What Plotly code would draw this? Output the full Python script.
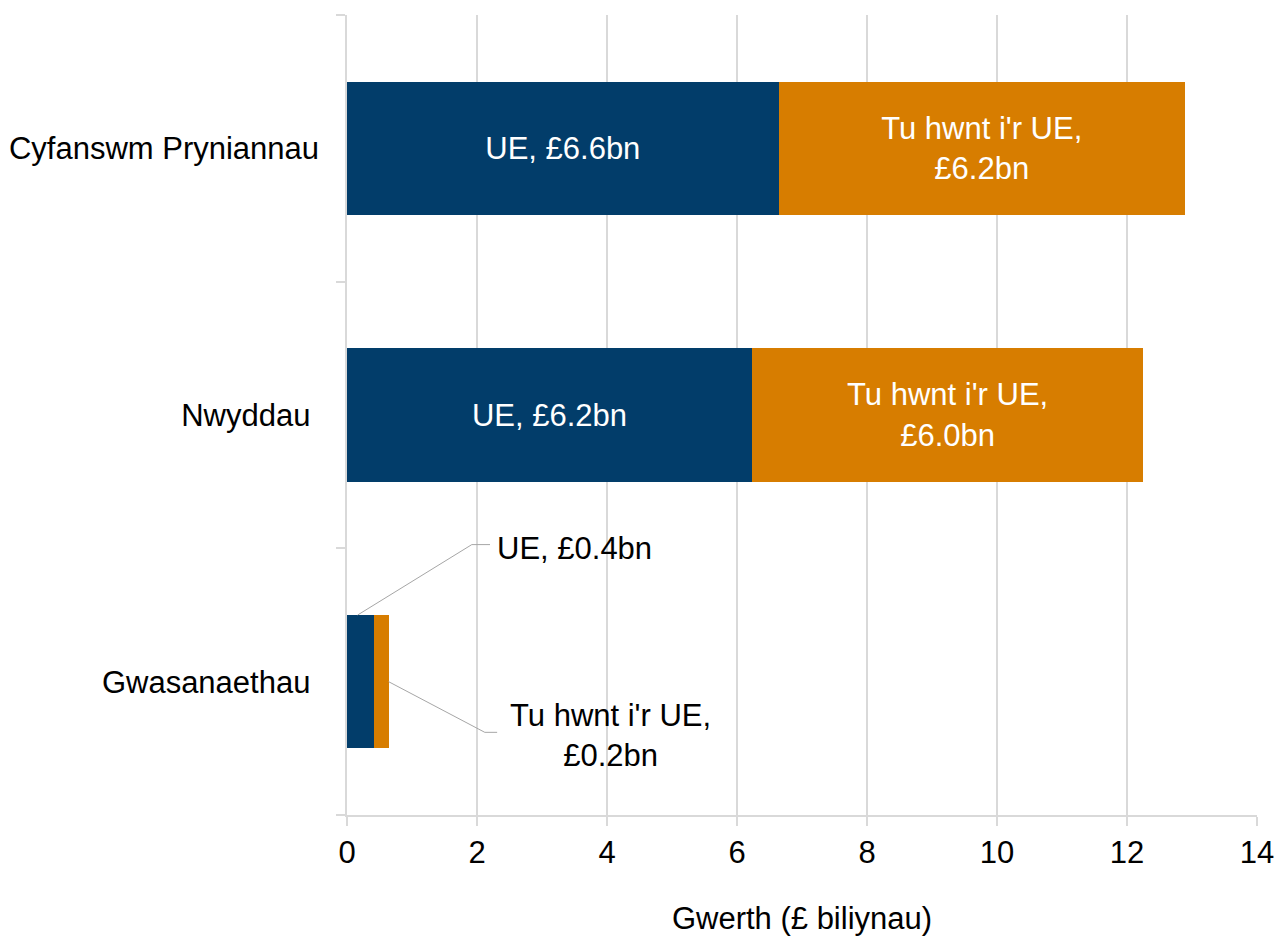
import plotly.graph_objects as go

categories = ["Cyfanswm Pryniannau", "Nwyddau", "Gwasanaethau"]
tick_labels = ["Cyfanswm Pryniannau", "Nwyddau\u00a0", "Gwasanaethau\u00a0"]
eu_values = [6.64, 6.23, 0.41]
non_eu_values = [6.25, 6.02, 0.23]
x_ticks = [0, 2, 4, 6, 8, 10, 12, 14]

NAVY = "#023D6A"
ORANGE = "#D77D00"
GRID = "#D9D9D9"
FONT = "Liberation Sans, Arial, sans-serif"
FS = 31

eu_text = [f"UE, £{v:.1f}bn" if v > 1 else "" for v in eu_values]
non_text = [f"Tu hwnt i'r UE,<br>£{v:.1f}bn" if v > 1 else "" for v in non_eu_values]

fig = go.Figure()
fig.add_trace(go.Bar(
    y=categories, x=eu_values, orientation="h", name="UE",
    marker=dict(color=NAVY, line=dict(width=0)),
    text=eu_text, textposition="inside", insidetextanchor="middle",
    textfont=dict(color="white", size=FS, family=FONT), constraintext="none",
))
fig.add_trace(go.Bar(
    y=categories, x=non_eu_values, orientation="h", name="Tu hwnt i'r UE",
    marker=dict(color=ORANGE, line=dict(width=0)),
    text=non_text, textposition="inside", insidetextanchor="middle",
    textfont=dict(color="white", size=FS, family=FONT), constraintext="none",
))

# Leader-line labels for the small "Gwasanaethau" bar
gi = 2
eu_s = eu_values[gi]
tot_s = eu_values[gi] + non_eu_values[gi]
line_style = dict(color="#A6A6A6", width=1)
fig.add_shape(type="path", xref="x", yref="y",
              path=f"M {eu_s*0.4} {gi-0.25} L 1.92 {gi-0.514} L 2.2 {gi-0.514}",
              line=line_style)
fig.add_shape(type="path", xref="x", yref="y",
              path=f"M {tot_s} {gi} L 2.12 {gi+0.19} L 2.31 {gi+0.19}",
              line=line_style)
fig.add_annotation(x=2.28, y=gi - 0.5, xref="x", yref="y", xanchor="left", yanchor="middle",
                   text=f"UE, £{eu_s:.1f}bn", showarrow=False,
                   font=dict(size=FS, color="black", family=FONT))
fig.add_annotation(x=4.06, y=gi + 0.2, xref="x", yref="y", xanchor="center", yanchor="middle",
                   text=f"Tu hwnt i'r UE,<br>£{non_eu_values[gi]:.1f}bn", showarrow=False,
                   align="center", font=dict(size=FS, color="black", family=FONT))

fig.update_layout(
    barmode="stack",
    bargap=0.5,
    showlegend=False,
    width=1278, height=936,
    margin=dict(l=347, r=21, t=15, b=121),
    paper_bgcolor="white", plot_bgcolor="white",
    font=dict(family=FONT, size=FS, color="black"),
    xaxis=dict(
        range=[0, 14], tickvals=x_ticks, ticktext=[str(t) for t in x_ticks],
        showgrid=True, gridcolor=GRID, gridwidth=1.5,
        zeroline=False, showline=True, linecolor=GRID, linewidth=1.5,
        ticks="outside", ticklen=9, tickcolor=GRID, tickwidth=1.5,
        ticklabelstandoff=0, ticklabeloverflow="allow", automargin=False,
        tickfont=dict(size=FS, color="black", family=FONT),
        title=dict(text="Gwerth (£ biliynau)", font=dict(size=FS, color="black", family=FONT),
                   standoff=42),
    ),
    yaxis=dict(
        categoryorder="array", categoryarray=categories,
        tickvals=categories, ticktext=tick_labels,
        autorange=False, range=[2.5, -0.5],
        showgrid=False, zeroline=False, showline=True, linecolor=GRID, linewidth=1.5,
        ticks="outside", ticklen=9, tickcolor=GRID, tickwidth=1.5, tickson="boundaries",
        ticklabelstandoff=20, automargin=False,
        tickfont=dict(size=FS, color="black", family=FONT),
    ),
)

fig.write_html("out.html",
               config={"displayModeBar": False},
               post_script="document.body.style.margin='0';document.body.style.overflow='hidden';")
